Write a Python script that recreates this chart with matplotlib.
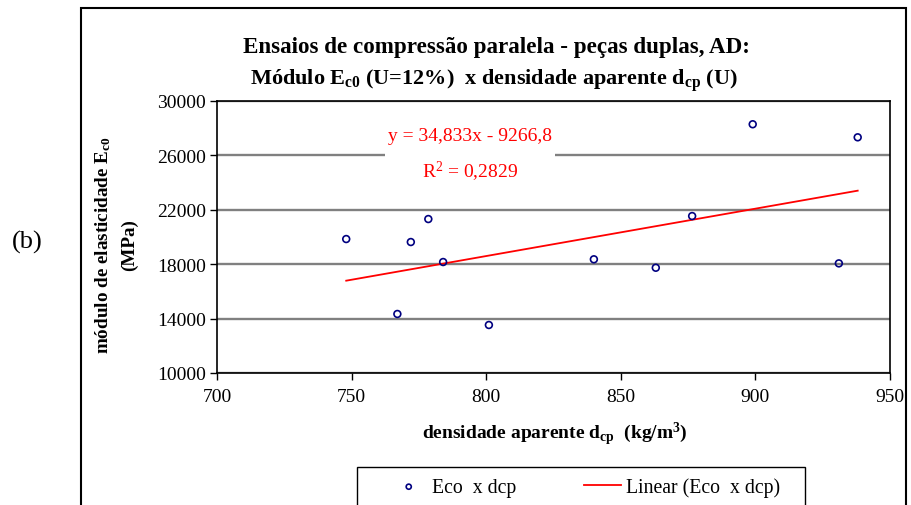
import numpy as np
import matplotlib
matplotlib.use('Agg')
from matplotlib import pyplot as plt
from matplotlib.patches import Rectangle

plt.rcParams['font.family'] = ['Liberation Serif', 'DejaVu Serif']
plt.rcParams['mathtext.fontset'] = 'custom'
plt.rcParams['mathtext.rm'] = 'Liberation Serif'
plt.rcParams['mathtext.it'] = 'Liberation Serif:italic'
plt.rcParams['mathtext.bf'] = 'Liberation Serif:bold'

# densidade aparente dcp (kg/m3) x modulo Ec0 (MPa)
dcp = [748, 772, 778.5, 784, 767, 801, 899, 938, 876.5, 840, 863, 931]
eco = [19850, 19630, 21320, 18160, 14340, 13530, 28290, 27330, 21540, 18360, 17740, 18060]

# trend line as printed on the chart
slope = 34.833
intercept = -9266.8
r2_text = '0,2829'

x_ticks = [700, 750, 800, 850, 900, 950]
y_ticks = [10000, 14000, 18000, 22000, 26000, 30000]

W, H = 912, 506
fig = plt.figure(figsize=(W / 100, H / 100), dpi=100)
ax = fig.add_axes([217 / W, 1 - 374 / H, 673 / W, 272 / H])

ax.scatter(dcp, eco, s=24, facecolors='none', edgecolors='#000080', linewidths=1.2,
           label='Eco  x dcp', zorder=3)

xl = np.array([min(dcp), max(dcp)])
ax.plot(xl, slope * xl + intercept, color='red', lw=1.3, label='Linear (Eco  x dcp)', zorder=2)

ax.set_xlim(700, 950)
ax.set_ylim(10000, 30000)
ax.set_xticks(x_ticks)
ax.set_yticks(y_ticks)
ax.tick_params(axis='both', labelsize=14, direction='out', length=5, width=1, pad=6)
ax.tick_params(axis='y', pad=3)
for s in ax.spines.values():
    s.set_linewidth(1.2)
    s.set_color('black')
ax.yaxis.grid(True, color='#808080', lw=1.7)
ax.set_axisbelow(True)

eq = 'y = 34,833x - 9266,8\nR$^{2}$ = ' + r2_text
ax.text(470 / W, 1 - 156 / H, eq, transform=fig.transFigure, ha='center', va='center',
        color='red', fontsize=14, linespacing=1.8,
        bbox=dict(facecolor='white', edgecolor='none', pad=2))

fig.text(496 / W, 1 - 47 / H, 'Ensaios de compressão paralela - peças duplas, AD:',
         ha='center', va='center', fontsize=16.6, fontweight='bold')
fig.text(494 / W, 1 - 81 / H,
         r'Módulo $\mathbf{E}_{\mathbf{c0}}$ (U=12%)  x densidade aparente $\mathbf{d}_{\mathbf{cp}}$ (U)',
         ha='center', va='center', fontsize=16.0, fontweight='bold')

fig.text(116 / W, 1 - 245 / H,
         'módulo de elasticidade E$_{\\mathbf{c0}}$\n(MPa)',
         rotation=90, ha='center', va='center', fontsize=13.8, fontweight='bold',
         linespacing=1.6)
fig.text(555 / W, 1 - 434 / H,
         r'densidade aparente $\mathbf{d}_{\mathbf{cp}}$  (kg/m$^{\mathbf{3}}$)',
         ha='center', va='center', fontsize=14, fontweight='bold')

fig.text(27 / W, 1 - 242 / H, '(b)', ha='center', va='center', fontsize=19)

# outer chart frame and legend frame, both run past the bottom edge
fig.patches.append(Rectangle((81 / W, -0.1), 825 / W, 1.1 - 9 / H,
                             transform=fig.transFigure, fill=False,
                             edgecolor='black', lw=1.5, clip_on=False))
fig.patches.append(Rectangle((357 / W, -0.1), 448 / W, 0.1 + 1 - 468 / H,
                             transform=fig.transFigure, fill=False,
                             edgecolor='black', lw=1.0, clip_on=False))

fig.legend(loc='center left', bbox_to_anchor=(390 / W, 1 - 488 / H),
           ncol=2, fontsize=14.2, frameon=False, borderpad=0, borderaxespad=0,
           handlelength=1.9, handletextpad=0.25, columnspacing=3.4, markerscale=0.75)

fig.savefig('out.png', dpi=100)
